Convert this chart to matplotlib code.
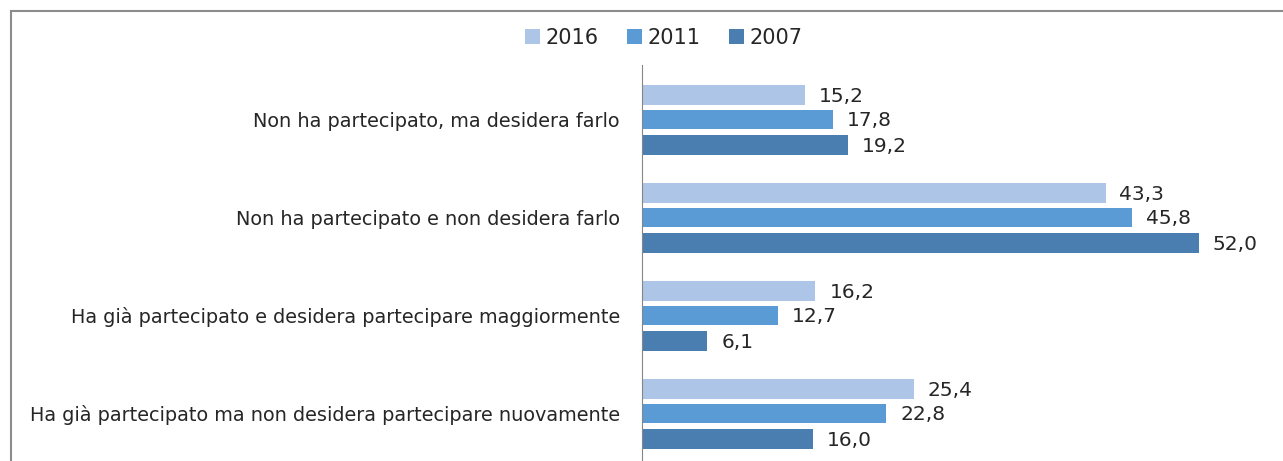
import matplotlib
matplotlib.use('Agg')
from matplotlib import pyplot as plt
from matplotlib.lines import Line2D

categories = [
    'Non ha partecipato, ma desidera farlo',
    'Non ha partecipato e non desidera farlo',
    'Ha già partecipato e desidera partecipare maggiormente',
    'Ha già partecipato ma non desidera partecipare nuovamente',
]
series_names = ['2016', '2011', '2007']
values_2016 = [15.2, 43.3, 16.2, 25.4]
values_2011 = [17.8, 45.8, 12.7, 22.8]
values_2007 = [19.2, 52.0, 6.1, 16.0]

colors = ['#adc6e7', '#5b9bd5', '#4a7eb0']


def main():
    W, H = 1283, 461
    fig = plt.figure(figsize=(W / 100, H / 100), dpi=100)
    plt.rcParams['font.family'] = ['DejaVu Sans']

    # axes placed in pixel terms
    left, right, top, bottom = 642, 1263, 65, 461
    ax = fig.add_axes([left / W, 1 - bottom / H, (right - left) / W, (bottom - top) / H])

    series = [values_2016, values_2011, values_2007]
    offsets = [-0.25, 0.0, 0.26]
    bar_h = 0.2
    for vals, off, col, name in zip(series, offsets, colors, series_names):
        ys = [i + off for i in range(len(categories))]
        bars = ax.barh(ys, vals, height=bar_h, color=col, label=name)
        for b, v in zip(bars, vals):
            ax.annotate(f'{v:.1f}'.replace('.', ','),
                        (b.get_width(), b.get_y() + b.get_height() / 2),
                        xytext=(10, -1), textcoords='offset points',
                        ha='left', va='center', fontsize=14.5, color='#262626')

    ax.set_xlim(0, 58)
    ax.set_ylim(3.485, -0.556)
    ax.set_yticks(range(len(categories)))
    ax.set_yticklabels(categories, fontsize=13.9, color='#262626')
    ax.tick_params(axis='y', length=0, pad=16)
    ax.set_xticks([])
    for s in ['top', 'right', 'bottom']:
        ax.spines[s].set_visible(False)
    ax.spines['left'].set_color('#868686')

    leg = fig.legend(loc='center', bbox_to_anchor=(664 / W, 1 - 38 / H),
                     ncol=3, frameon=False, fontsize=15,
                     handlelength=0.7, handleheight=0.7, handletextpad=0.3,
                     columnspacing=1.35)
    for t in leg.get_texts():
        t.set_color('#262626')

    # chart border (top and left visible in the crop)
    fig.add_artist(Line2D([10.5 / W, 1], [1 - 11.5 / H, 1 - 11.5 / H],
                          color='#8c8c8c', lw=1.5, transform=fig.transFigure))
    fig.add_artist(Line2D([10.5 / W, 10.5 / W], [0, 1 - 11.5 / H],
                          color='#8c8c8c', lw=1.5, transform=fig.transFigure))

    fig.savefig('out.png', dpi=100)


if __name__ == '__main__':
    main()
